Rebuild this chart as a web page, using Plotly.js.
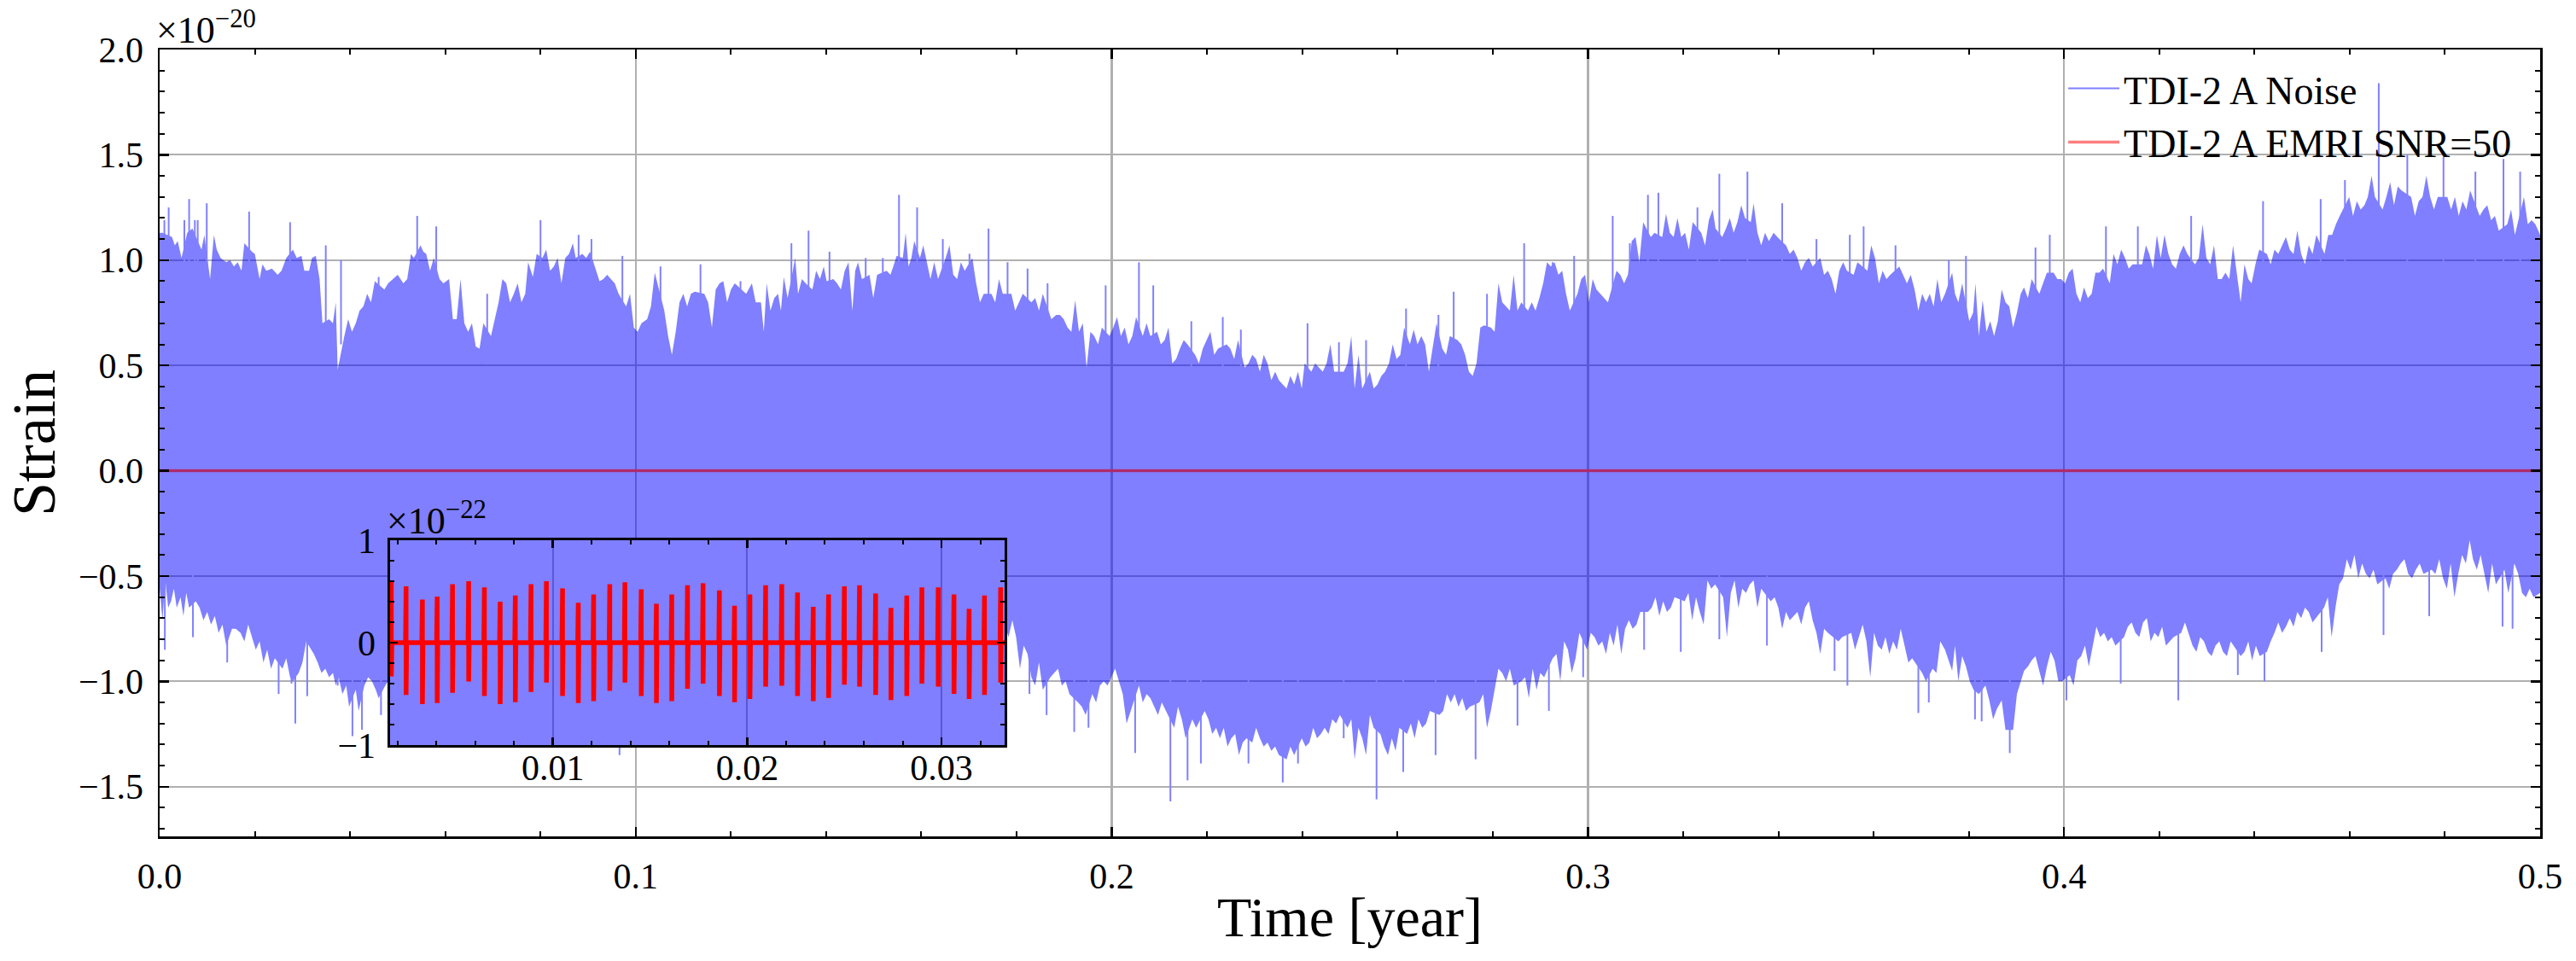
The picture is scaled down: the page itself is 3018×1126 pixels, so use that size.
<!DOCTYPE html>
<html>
<head>
<meta charset="utf-8">
<script src="https://cdn.plot.ly/plotly-3.0.1.min.js"></script>
<style>html,body{margin:0;padding:0;background:#fff;}</style>
</head>
<body>
<div id="chart" style="width:3018px;height:1126px;"></div>
<script>
// ---------- DATA (main panel strain in units of 1e-20; inset in units of 1e-22) ----------
// Upper edge of the noise trace (time [yr], strain)
var upperT = [0.0000,0.0006,0.0026,0.0032,0.0038,0.0046,0.0058,0.0069,0.0088,0.0094,0.0106,0.0114,0.0120,0.0128,0.0140,0.0148,0.0156,0.0164,0.0172,0.0178,
0.0194,0.0200,0.0210,0.0216,0.0224,0.0236,0.0248,0.0256,0.0266,0.0280,0.0288,0.0298,0.0304,0.0314,0.0320,0.0328,0.0336,0.0342,0.0356,0.0364,
0.0370,0.0374,0.0388,0.0396,0.0404,0.0412,0.0420,0.0428,0.0436,0.0444,0.0452,0.0472,0.0480,0.0490,0.0500,0.0512,0.0520,0.0528,0.0534,0.0548,
0.0554,0.0560,0.0568,0.0576,0.0588,0.0596,0.0608,0.0616,0.0624,0.0632,0.0640,0.0648,0.0656,0.0664,0.0672,0.0680,0.0696,0.0704,0.0712,0.0720,
0.0728,0.0736,0.0744,0.0752,0.0760,0.0768,0.0774,0.0784,0.0792,0.0804,0.0812,0.0820,0.0828,0.0836,0.0844,0.0852,0.0860,0.0868,0.0874,0.0888,
0.0896,0.0904,0.0916,0.0924,0.0932,0.0940,0.0948,0.0956,0.0964,0.0980,0.0988,0.0996,0.1004,0.1012,0.1024,0.1032,0.1040,0.1060,0.1068,0.1076,
0.1084,0.1092,0.1100,0.1108,0.1116,0.1124,0.1144,0.1152,0.1160,0.1168,0.1176,0.1184,0.1192,0.1200,0.1208,0.1232,0.1244,0.1252,
0.1263,0.1269,0.1275,0.1283,0.1291,0.1299,0.1305,0.1311,0.1319,0.1335,0.1341,0.1349,0.1357,0.1371,0.1379,0.1387,0.1395,0.1401,0.1415,0.1423,
0.1431,0.1439,0.1447,0.1455,0.1461,0.1467,0.1475,0.1491,0.1499,0.1507,0.1527,0.1535,0.1541,0.1548,0.1561,0.1567,0.1573,0.1579,0.1585,0.1597,
0.1604,0.1611,0.1619,0.1627,0.1635,0.1651,0.1659,0.1667,0.1675,0.1683,0.1691,0.1707,0.1715,0.1723,0.1731,0.1747,0.1755,0.1763,0.1771,0.1789,
0.1797,0.1805,0.1813,0.1831,0.1839,0.1847,0.1855,0.1873,0.1883,0.1891,0.1899,0.1907,0.1915,0.1923,0.1931,0.1939,0.1947,0.1955,0.1963,0.1971,
0.1979,0.1995,0.2003,0.2011,0.2019,0.2027,0.2035,0.2043,0.2051,0.2065,0.2073,0.2081,0.2095,0.2103,0.2111,0.2119,0.2127,0.2135,0.2143,0.2151,
0.2159,0.2175,0.2183,0.2191,0.2199,0.2207,0.2215,0.2223,0.2241,0.2249,0.2257,0.2265,0.2279,0.2287,0.2295,0.2303,0.2311,0.2319,0.2327,0.2335,
0.2343,0.2351,0.2359,0.2367,0.2375,0.2383,0.2391,0.2399,0.2405,0.2419,0.2427,0.2435,0.2443,0.2451,0.2459,0.2467,0.2487,0.2495,0.2503,
0.2510,0.2518,0.2526,0.2542,0.2550,0.2558,0.2566,0.2574,0.2582,0.2590,0.2598,0.2606,0.2614,0.2626,0.2634,0.2642,0.2650,0.2658,0.2666,0.2674,
0.2682,0.2694,0.2702,0.2710,0.2726,0.2734,0.2742,0.2750,0.2758,0.2766,0.2774,0.2782,0.2796,0.2804,0.2812,0.2820,0.2828,0.2836,0.2844,0.2852,
0.2860,0.2874,0.2882,0.2890,0.2898,0.2906,0.2914,0.2922,0.2930,0.2938,0.2946,0.2954,0.2962,0.2978,0.2986,0.2994,0.3002,0.3010,0.3018,0.3026,
0.3034,0.3042,0.3060,0.3068,0.3076,0.3084,0.3092,0.3100,0.3108,0.3116,0.3132,0.3140,0.3156,0.3164,0.3172,0.3180,0.3188,0.3196,0.3204,0.3212,
0.3220,0.3238,0.3246,0.3254,0.3262,0.3268,0.3282,0.3290,0.3298,0.3306,0.3314,0.3322,0.3330,0.3342,0.3348,0.3356,0.3364,0.3372,0.3380,0.3390,
0.3398,0.3416,0.3424,0.3432,0.3440,0.3448,0.3456,0.3464,0.3472,0.3488,0.3496,0.3504,0.3512,0.3520,0.3528,0.3536,0.3544,0.3558,0.3566,0.3587,
0.3595,0.3603,0.3611,0.3619,0.3627,0.3635,0.3654,0.3662,0.3670,0.3678,0.3686,0.3694,0.3702,0.3710,0.3718,0.3726,0.3734,0.3742,0.3750,
0.3765,0.3771,0.3778,0.3786,0.3801,0.3809,0.3814,0.3821,0.3829,0.3837,0.3845,0.3853,0.3861,0.3869,0.3877,0.3885,0.3893,0.3901,0.3909,0.3916,
0.3924,0.3932,0.3948,0.3956,0.3964,0.3978,0.3986,0.3994,0.4002,0.4010,0.4018,0.4026,0.4034,0.4042,0.4050,0.4058,0.4066,0.4074,0.4082,0.4096,
0.4104,0.4112,0.4120,0.4128,0.4136,0.4144,0.4164,0.4172,0.4179,0.4187,0.4195,0.4203,0.4211,0.4219,0.4227,0.4235,0.4243,0.4251,0.4259,0.4275,
0.4283,0.4291,0.4299,0.4307,0.4315,0.4323,0.4331,0.4339,0.4347,0.4355,0.4363,0.4371,0.4379,0.4387,0.4394,0.4402,0.4410,0.4426,0.4434,0.4442,
0.4450,0.4458,0.4466,0.4474,0.4482,0.4490,0.4498,0.4506,0.4514,0.4522,0.4530,0.4547,0.4555,0.4563,0.4571,0.4579,0.4599,0.4607,0.4615,0.4623,
0.4631,0.4638,0.4646,0.4653,0.4669,0.4677,0.4685,0.4693,0.4701,0.4709,0.4729,0.4737,0.4745,0.4753,0.4761,0.4769,0.4777,0.4785,0.4805,0.4813,
0.4821,0.4829,0.4837,0.4845,0.4853,0.4873,0.4881,0.4889,0.4897,0.4905,0.4913,0.4931,0.4939,0.4947,0.4966,0.4974,0.4982,0.4990,0.5000];
var upperV = [1.13,1.13,1.11,1.07,1.09,1.01,1.13,1.15,1.05,1.12,0.91,1.12,1.05,1.01,0.99,1.00,0.97,0.99,0.95,1.08,
1.04,1.03,0.91,0.98,0.95,0.96,0.93,0.95,1.01,1.05,1.01,1.02,0.95,0.95,1.01,1.02,0.91,0.70,0.72,0.70,
0.80,0.48,0.64,0.72,0.66,0.70,0.76,0.78,0.84,0.80,0.90,0.86,0.89,0.91,0.93,0.89,0.91,1.03,1.01,1.07,
1.04,1.03,0.95,1.01,0.91,0.89,0.91,0.72,0.72,0.91,0.70,0.66,0.70,0.59,0.58,0.70,0.64,0.72,0.80,0.91,
0.89,0.80,0.84,0.89,0.80,0.84,0.99,0.92,1.03,1.01,1.05,0.95,0.97,1.01,0.89,1.01,1.03,1.08,1.01,1.03,
1.01,1.04,0.95,0.90,0.91,0.93,0.91,0.89,0.84,0.78,0.84,0.68,0.66,0.70,0.72,0.78,0.94,0.76,0.64,0.55,
0.66,0.80,0.84,0.78,0.84,0.85,0.84,0.80,0.68,0.86,0.89,0.90,0.80,0.86,0.89,0.84,0.89,0.80,
0.80,0.66,0.89,0.76,0.82,0.84,0.76,0.92,0.82,1.01,0.84,0.91,0.89,0.86,0.95,0.91,0.97,0.90,0.91,0.89,
0.86,0.95,0.99,0.76,0.95,0.99,0.91,0.93,0.82,0.93,0.95,0.93,0.97,1.02,1.01,1.13,0.97,1.01,1.09,1.01,
1.07,0.99,0.91,0.99,0.91,1.01,1.07,0.93,0.91,0.99,0.95,1.01,0.89,0.80,0.84,0.84,0.80,0.91,0.84,0.84,
0.76,0.80,0.84,0.80,0.82,0.76,0.84,0.72,0.74,0.74,0.72,0.68,0.66,0.81,0.66,0.70,0.49,0.66,0.64,0.60,
0.68,0.64,0.68,0.73,0.64,0.68,0.60,0.64,0.73,0.64,0.70,0.64,0.66,0.60,0.62,0.68,0.51,0.53,0.58,0.62,
0.60,0.55,0.51,0.58,0.62,0.66,0.55,0.58,0.60,0.58,0.53,0.62,0.49,0.51,0.55,0.53,0.47,0.55,0.51,0.43,
0.47,0.43,0.41,0.39,0.45,0.41,0.47,0.39,0.51,0.47,0.51,0.49,0.47,0.51,0.60,0.47,0.47,0.51,0.64,
0.39,0.55,0.39,0.47,0.39,0.41,0.45,0.47,0.51,0.60,0.53,0.55,0.68,0.60,0.67,0.60,0.64,0.60,0.47,0.58,
0.70,0.58,0.55,0.64,0.62,0.60,0.55,0.47,0.45,0.51,0.68,0.69,0.68,0.66,0.89,0.80,0.78,0.76,0.93,0.76,
0.80,0.76,0.80,0.76,0.82,0.89,0.99,0.97,0.99,0.93,0.95,0.84,0.76,0.84,0.91,0.93,0.80,0.91,0.86,0.84,
0.82,0.80,0.95,0.93,0.89,0.93,1.09,1.11,0.99,1.18,1.11,1.13,1.11,1.22,1.13,1.11,1.20,1.11,1.13,1.05,
1.18,1.13,1.07,1.19,1.24,1.15,1.11,1.15,1.20,1.13,1.18,1.26,1.20,1.18,1.27,1.13,1.07,1.13,1.09,1.13,
1.11,1.07,1.03,1.05,1.01,0.95,0.99,1.01,0.97,1.01,0.93,0.95,0.91,0.84,0.95,0.99,0.95,0.93,0.99,0.95,
1.07,1.01,0.89,0.95,0.91,0.93,0.97,0.93,0.89,0.93,0.86,0.76,0.84,0.80,0.84,0.78,0.91,0.80,0.84,
0.94,0.84,0.80,0.89,0.71,0.75,0.89,0.64,0.81,0.66,0.71,0.64,0.71,0.86,0.80,0.78,0.68,0.75,0.84,0.87,
0.82,0.91,0.84,0.89,0.94,0.94,0.91,0.91,0.89,0.94,0.96,0.84,0.80,0.87,0.82,0.84,0.94,0.94,0.96,0.89,
1.03,0.98,1.05,1.01,0.96,0.98,0.98,1.07,1.03,0.96,1.12,1.01,1.12,1.03,0.98,0.96,1.03,1.07,1.03,0.98,
1.01,1.17,1.01,0.98,1.07,0.91,0.91,0.94,0.91,1.07,0.94,0.80,0.98,0.91,0.89,0.98,1.05,1.03,0.98,1.05,
1.03,1.07,1.11,1.05,1.03,1.14,1.03,0.98,1.07,1.03,1.12,1.03,1.12,1.12,1.17,1.21,1.30,1.21,1.28,1.24,
1.26,1.30,1.40,1.30,1.24,1.30,1.37,1.26,1.35,1.33,1.30,1.21,1.28,1.30,1.40,1.30,1.24,1.30,1.30,1.24,
1.30,1.21,1.28,1.24,1.33,1.21,1.24,1.26,1.19,1.21,1.14,1.17,1.24,1.12,1.30,1.17,1.19,1.17,1.12];

// Lower edge of the noise trace (time [yr], strain); the part behind the inset is estimated
var lowerT = [0.0000,0.0006,0.0012,0.0018,0.0024,0.0030,0.0036,0.0044,0.0050,0.0056,0.0062,0.0076,0.0084,0.0092,0.0100,0.0108,0.0116,0.0124,0.0132,0.0140,
0.0152,0.0160,0.0170,0.0178,0.0186,0.0194,0.0202,0.0210,0.0218,0.0226,0.0234,0.0242,0.0258,0.0266,0.0274,0.0280,0.0292,0.0300,0.0308,0.0324,
0.0332,0.0340,0.0348,0.0356,0.0364,0.0370,0.0376,0.0384,0.0392,0.0398,0.0412,0.0418,0.0430,0.0438,0.0446,0.0454,0.0460,0.0474,0.0480,
0.050,0.055,0.060,0.065,0.070,0.075,0.080,0.085,0.090,0.095,0.100,0.105,0.110,0.115,0.120,0.125,0.130,0.135,0.140,0.145,0.150,0.155,0.160,0.165,0.170,
0.1775,0.1783,0.1791,0.1799,0.1807,0.1815,0.1823,0.1831,0.1839,0.1847,0.1855,0.1871,0.1879,0.1887,0.1895,0.1903,0.1911,0.1929,0.1937,0.1945,
0.1959,0.1967,0.1975,0.1983,0.1991,0.1999,0.2007,0.2015,0.2023,0.2031,0.2039,0.2057,0.2065,0.2073,0.2081,0.2089,0.2097,0.2105,0.2113,0.2131,
0.2139,0.2147,0.2155,0.2169,0.2177,0.2195,0.2203,0.2211,0.2219,0.2227,0.2235,0.2243,0.2251,0.2259,0.2267,0.2275,0.2283,0.2295,0.2303,0.2311,
0.2319,0.2327,0.2335,0.2343,0.2351,0.2367,0.2375,0.2383,0.2399,0.2407,0.2415,0.2423,0.2431,0.2439,0.2447,0.2455,0.2463,0.2471,0.2479,0.2495,0.2503,
0.2510,0.2518,0.2526,0.2534,0.2542,0.2550,0.2564,0.2572,0.2580,0.2588,0.2596,0.2604,0.2620,0.2628,0.2636,0.2644,0.2652,0.2660,0.2668,0.2688,
0.2696,0.2704,0.2712,0.2720,0.2728,0.2736,0.2744,0.2752,0.2772,0.2780,0.2788,0.2796,0.2804,0.2812,0.2820,0.2828,0.2836,0.2844,0.2860,0.2868,
0.2876,0.2884,0.2892,0.2900,0.2908,0.2926,0.2934,0.2942,0.2950,0.2958,0.2966,0.2974,0.2982,0.2998,0.3006,0.3014,0.3022,0.3030,0.3038,0.3046,
0.3054,0.3062,0.3070,0.3078,0.3086,0.3094,0.3102,0.3110,0.3126,0.3134,0.3142,0.3150,0.3158,0.3166,0.3174,0.3182,0.3203,0.3211,0.3219,0.3227,
0.3235,0.3243,0.3251,0.3259,0.3267,0.3284,0.3292,0.3300,0.3308,0.3316,0.3324,0.3332,0.3340,0.3348,0.3356,0.3364,0.3384,0.3392,0.3400,0.3408,
0.3416,0.3424,0.3432,0.3440,0.3448,0.3456,0.3464,0.3472,0.3480,0.3488,0.3496,0.3504,0.3526,0.3534,0.3553,0.3561,0.3569,0.3577,0.3585,0.3593,
0.3601,0.3609,0.3617,0.3625,0.3633,0.3641,0.3649,0.3657,0.3665,0.3673,0.3681,0.3702,0.3710,0.3724,0.3732,0.3740,0.3750,
0.3765,0.3771,0.3778,0.3786,0.3794,0.3802,0.3810,0.3821,0.3835,0.3843,0.3851,0.3859,0.3869,0.3877,0.3893,0.3901,0.3909,0.3916,0.3924,0.3932,
0.3940,0.3948,0.3956,0.3964,0.3972,0.3980,0.3988,0.3996,0.4012,0.4020,0.4028,0.4036,0.4044,0.4052,0.4060,0.4068,0.4076,0.4084,0.4092,0.4100,
0.4108,0.4126,0.4134,0.4142,0.4150,0.4158,0.4166,0.4174,0.4182,0.4190,0.4198,0.4206,0.4214,0.4222,0.4230,0.4246,0.4254,0.4262,0.4270,0.4278,
0.4286,0.4294,0.4302,0.4310,0.4318,0.4326,0.4334,0.4342,0.4350,0.4371,0.4379,0.4387,0.4395,0.4403,0.4411,0.4426,0.4434,0.4442,0.4450,0.4458,
0.4466,0.4474,0.4482,0.4490,0.4498,0.4506,0.4514,0.4522,0.4530,0.4546,0.4554,0.4562,0.4570,0.4578,0.4586,0.4594,0.4602,0.4610,0.4618,0.4626,
0.4634,0.4642,0.4650,0.4658,0.4675,0.4683,0.4691,0.4699,0.4707,0.4715,0.4723,0.4731,0.4739,0.4747,0.4755,0.4772,0.4780,0.4788,0.4796,0.4804,
0.4812,0.4820,0.4828,0.4836,0.4844,0.4852,0.4859,0.4867,0.4875,0.4883,0.4891,0.4899,0.4907,0.4925,0.4933,0.4946,0.4954,0.4962,0.4970,0.4978,0.4986,0.5000];
var lowerV = [-0.56,-0.71,-0.52,-0.65,-0.62,-0.56,-0.65,-0.60,-0.69,-0.58,-0.65,-0.62,-0.65,-0.71,-0.67,-0.73,-0.69,-0.77,-0.73,-0.83,
-0.75,-0.75,-0.77,-0.81,-0.73,-0.79,-0.85,-0.81,-0.91,-0.85,-0.94,-0.89,-0.94,-0.89,-0.98,-1.00,-0.96,-0.91,-0.81,-0.87,
-0.91,-0.96,-0.94,-0.98,-0.96,-1.02,-0.98,-1.06,-1.02,-1.12,-1.04,-1.14,-1.02,-0.98,-1.00,-1.04,-1.08,-1.02,-1.00,
-0.95,-1.00,-1.02,-0.98,-0.95,-0.97,-1.02,-1.05,-1.05,-1.08,-1.00,-0.98,-0.95,-0.98,-1.00,-0.98,-0.95,-0.98,-1.00,-0.98,-0.95,-0.95,-0.90,-0.85,-0.80,
-0.73,-0.79,-0.71,-0.79,-0.94,-0.83,-0.87,-0.98,-1.02,-0.91,-1.04,-0.98,-0.96,-0.94,-1.02,-1.00,-1.06,-1.10,-1.12,-1.16,
-1.06,-1.10,-1.02,-1.00,-1.02,-0.98,-0.94,-1.00,-1.06,-1.20,-1.14,-1.02,-1.10,-1.06,-1.08,-1.12,-1.16,-1.10,-1.14,-1.22,
-1.12,-1.18,-1.27,-1.18,-1.22,-1.14,-1.18,-1.25,-1.22,-1.27,-1.22,-1.31,-1.27,-1.25,-1.35,-1.29,-1.27,-1.29,-1.22,-1.27,
-1.31,-1.29,-1.33,-1.31,-1.35,-1.37,-1.31,-1.35,-1.27,-1.31,-1.29,-1.22,-1.27,-1.25,-1.22,-1.25,-1.18,-1.20,-1.16,-1.22,-1.18,
-1.37,-1.22,-1.27,-1.35,-1.16,-1.22,-1.25,-1.31,-1.35,-1.27,-1.33,-1.22,-1.25,-1.20,-1.27,-1.18,-1.22,-1.20,-1.14,-1.16,
-1.14,-1.06,-1.10,-1.06,-1.12,-1.08,-1.14,-1.12,-1.10,-1.06,-1.22,-1.14,-1.04,-0.94,-0.96,-1.00,-0.94,-1.02,-1.00,-0.98,
-1.08,-0.94,-1.04,-0.96,-0.98,-0.89,-0.87,-1.00,-0.81,-0.85,-0.96,-0.89,-0.77,-0.85,-0.77,-0.79,-0.83,-0.81,-0.87,-0.77,
-0.83,-0.73,-0.87,-0.75,-0.71,-0.75,-0.73,-0.67,-0.67,-0.65,-0.60,-0.69,-0.62,-0.67,-0.65,-0.60,-0.62,-0.58,-0.71,-0.60,
-0.67,-0.73,-0.52,-0.56,-0.54,-0.60,-0.79,-0.58,-0.52,-0.65,-0.56,-0.58,-0.54,-0.52,-0.65,-0.56,-0.62,-0.60,-0.65,-0.75,
-0.67,-0.71,-0.69,-0.67,-0.73,-0.65,-0.62,-0.71,-0.77,-0.87,-0.75,-0.77,-0.81,-0.79,-0.77,-0.85,-0.79,-0.73,-0.81,-0.98,
-0.77,-0.83,-0.85,-0.79,-0.87,-0.81,-0.85,-0.75,-0.83,-0.91,-0.89,-0.96,-1.00,-0.94,-0.96,-0.81,-0.85,
-0.95,-0.83,-1.00,-0.88,-0.93,-1.00,-1.04,-1.06,-1.02,-1.09,-1.18,-1.13,-1.09,-1.23,-1.23,-1.06,-1.00,-0.95,-0.93,-0.90,
-0.88,-0.95,-1.02,-0.93,-0.86,-0.90,-1.00,-1.00,-0.97,-1.02,-0.90,-0.88,-0.83,-0.93,-0.83,-0.74,-0.79,-0.77,-0.81,-0.79,
-0.83,-0.79,-0.74,-0.72,-0.77,-0.79,-0.72,-0.70,-0.81,-0.77,-0.79,-0.74,-0.83,-0.81,-0.79,-0.77,-0.72,-0.77,-0.83,-0.86,
-0.79,-0.81,-0.86,-0.88,-0.83,-0.81,-0.86,-0.88,-0.81,-0.88,-0.86,-0.81,-0.90,-0.83,-0.88,-0.86,-0.81,-0.77,-0.72,-0.77,
-0.74,-0.70,-0.74,-0.67,-0.70,-0.65,-0.67,-0.72,-0.70,-0.65,-0.60,-0.79,-0.65,-0.54,-0.51,-0.42,-0.47,-0.40,-0.51,-0.44,
-0.49,-0.51,-0.47,-0.54,-0.51,-0.56,-0.49,-0.47,-0.44,-0.42,-0.49,-0.51,-0.47,-0.44,-0.49,-0.47,-0.49,-0.42,-0.51,-0.56,
-0.44,-0.60,-0.49,-0.40,-0.44,-0.33,-0.42,-0.47,-0.40,-0.49,-0.58,-0.44,-0.54,-0.47,-0.58,-0.44,-0.49,-0.58,-0.60,-0.56,-0.60,-0.58];

// Isolated noise excursions (time [yr], strain)
var spikeUpT = [0.0010,0.0019,0.0052,0.0062,0.0074,0.0080,0.0099,0.0188,0.0274,0.0349,0.0381,0.0460,0.0541,0.0581,0.0688,0.0800,0.0880,0.0907,0.0972,0.1052,0.1136,0.1220,
0.1327,0.1363,0.1407,0.1483,0.1519,0.1553,0.1591,0.1645,0.1701,0.1741,0.1781,0.1823,0.1865,0.1987,0.2057,0.2087,0.2167,0.2233,0.2271,0.2411,0.2477,
0.2534,0.2618,0.2686,0.2718,0.2788,0.2866,0.2926,0.2971,0.3052,0.3088,0.3126,0.3148,0.3230,0.3276,0.3335,0.3408,0.3480,0.3550,0.3579,0.3646,0.3758,
0.3794,0.3940,0.3970,0.4088,0.4155,0.4267,0.4418,0.4539,0.4590,0.4661,0.4721,0.4797,0.4864,0.4923,0.4958];
var spikeUpV = [1.19,1.25,1.19,1.29,1.19,1.19,1.27,1.23,1.18,1.07,1.00,0.92,1.21,1.16,0.84,1.19,1.12,1.10,1.02,0.97,0.98,0.90,
1.08,1.14,1.04,1.01,1.01,1.31,1.25,1.10,1.03,1.15,0.99,0.96,0.89,0.88,0.99,0.88,0.71,0.73,0.67,0.70,0.61,
0.62,0.77,0.74,0.85,0.84,1.08,0.99,1.02,1.21,1.08,1.31,1.32,1.25,1.41,1.42,1.27,1.10,1.12,1.16,1.07,1.00,
1.02,1.06,1.12,1.16,1.16,1.21,1.28,1.29,1.38,1.84,1.50,1.49,1.42,1.48,1.42];
var spikeDnT = [0.0011,0.0070,0.0142,0.0250,0.0277,0.0285,0.0310,0.0374,0.0405,0.0425,0.0465,0.0966,
0.1827,0.1863,0.1921,0.1951,0.2049,0.2123,0.2159,0.2187,0.2287,0.2359,0.2391,0.2487,
0.2556,0.2612,0.2680,0.2764,0.2852,0.2918,0.2990,0.3118,0.3195,0.3276,0.3376,0.3518,0.3545,0.3694,0.3716,
0.3813,0.3827,0.3886,0.4005,0.4119,0.4240,0.4365,0.4421,0.4541,0.4671,0.4767,0.4921,0.4942];
var spikeDnV = [-0.85,-0.79,-0.91,-1.06,-1.01,-1.20,-1.07,-1.02,-1.26,-1.23,-1.16,-1.35,
-1.06,-1.16,-1.24,-1.22,-1.34,-1.57,-1.47,-1.39,-1.39,-1.48,-1.39,-1.27,
-1.56,-1.43,-1.35,-1.37,-1.21,-1.14,-0.98,-0.85,-0.86,-0.80,-0.83,-0.95,-1.02,-1.15,-1.10,
-1.18,-1.19,-1.34,-1.09,-1.01,-1.09,-0.97,-1.00,-0.86,-0.78,-0.69,-0.74,-0.75];

// EMRI signal at the main-panel scale (indistinguishable from zero there)
var emriMainT = [0.0, 0.5];
var emriMainV = [0.0, 0.0];

// EMRI bursts in the inset (units of 1e-22): burst times, positive peaks, negative troughs
var burstT = [0.00169,0.00245,0.00329,0.00405,0.00484,0.00567,0.00648,0.00729,0.00807,0.00888,
0.00967,0.01050,0.01131,0.01210,0.01293,0.01371,0.01455,0.01533,0.01612,0.01693,
0.01773,0.01857,0.01935,0.02014,0.02095,0.02178,0.02259,0.02340,0.02419,0.02500,
0.02578,0.02661,0.02740,0.02821,0.02899,0.02983,0.03064,0.03142,0.03221,0.03304];
var burstPeak = [0.60,0.55,0.42,0.45,0.57,0.60,0.54,0.40,0.46,0.57,
0.60,0.53,0.39,0.47,0.57,0.59,0.52,0.38,0.47,0.56,
0.58,0.51,0.36,0.47,0.56,0.57,0.49,0.35,0.47,0.55,
0.56,0.48,0.34,0.46,0.54,0.54,0.47,0.33,0.46,0.54];
var burstTrough = [-0.33,-0.51,-0.60,-0.59,-0.49,-0.38,-0.52,-0.60,-0.58,-0.48,
-0.39,-0.52,-0.59,-0.57,-0.47,-0.39,-0.52,-0.59,-0.57,-0.45,
-0.40,-0.52,-0.58,-0.55,-0.43,-0.42,-0.52,-0.57,-0.54,-0.41,
-0.43,-0.51,-0.56,-0.52,-0.40,-0.43,-0.50,-0.55,-0.51,-0.39];
var insetRangeT = [0.001625, 0.03325];

// ---------- BUILD TRACES ----------
function envelopePolygon(scale) {
  var x = upperT.concat(lowerT.slice().reverse());
  var y = upperV.map(function(v){return v*scale;})
          .concat(lowerV.slice().reverse().map(function(v){return v*scale;}));
  return {x: x, y: y};
}
var mainPoly = envelopePolygon(1);
var insetPoly = envelopePolygon(100); // 1e-20 -> 1e-22 units

// each excursion is drawn as a thin stroke whose inner end is hidden inside the filled band
var SPIKE_BASE = 0.6;
var spkX = [], spkY = [];
spikeUpT.forEach(function(t, i){ spkX.push(t, t, null); spkY.push(spikeUpV[i]*SPIKE_BASE, spikeUpV[i], null); });
spikeDnT.forEach(function(t, i){ spkX.push(t, t, null); spkY.push(spikeDnV[i]*SPIKE_BASE, spikeDnV[i], null); });

var bx = [insetRangeT[0]], by = [0];
var eps = 0.00003;
burstT.forEach(function(t, i){
  bx.push(t - eps, t, t, t + eps);
  by.push(0, burstPeak[i], burstTrough[i], 0);
});
bx.push(insetRangeT[1]); by.push(0);

var FONT = 'Liberation Serif, Times New Roman, serif';
var blueA = 'rgba(0,0,255,0.5)';
var blueSolid = 'rgb(128,128,255)';

var traces = [
  {x: mainPoly.x, y: mainPoly.y, type: 'scatter', mode: 'lines', fill: 'toself',
   fillcolor: blueA, line: {width: 0, color: blueA}, hoverinfo: 'skip', showlegend: false, xaxis: 'x', yaxis: 'y'},
  {x: spkX, y: spkY, type: 'scatter', mode: 'lines', name: 'TDI-2 A Noise',
   line: {width: 2, color: blueSolid}, connectgaps: false, xaxis: 'x', yaxis: 'y'},
  {x: emriMainT, y: emriMainV, type: 'scatter', mode: 'lines', name: 'TDI-2 A EMRI SNR=50',
   line: {width: 3.5, color: 'rgba(255,0,0,0.5)'}, xaxis: 'x', yaxis: 'y'},
  {x: insetPoly.x, y: insetPoly.y, type: 'scatter', mode: 'lines', fill: 'toself',
   fillcolor: blueA, line: {width: 0, color: blueA}, hoverinfo: 'skip', showlegend: false, xaxis: 'x2', yaxis: 'y2'},
  {x: bx, y: by, type: 'scatter', mode: 'lines', showlegend: false,
   line: {width: 5.5, color: 'rgb(255,0,0)'}, xaxis: 'x2', yaxis: 'y2'}
];

var tickFont = {family: FONT, size: 42, color: '#000'};
function axisBase() {
  return {
    ticks: 'inside', ticklen: 11, tickwidth: 2.5, tickcolor: '#000',
    mirror: 'allticks', showline: true, linewidth: 2.5, linecolor: '#000',
    showgrid: true, gridcolor: '#b0b0b0', gridwidth: 2.2, zeroline: false,
    tickfont: tickFont, automargin: false
  };
}
var xa = axisBase();
Object.assign(xa, {domain: [0, 1], range: [0, 0.5], tick0: 0, dtick: 0.1, tickformat: '.1f',
  minor: {dtick: 0.02, ticks: 'inside', ticklen: 6, tickwidth: 2, tickcolor: '#000', showgrid: false},
  title: {text: 'Time [year]', font: {family: FONT, size: 66, color: '#000'}, standoff: 2},
  ticklabelstandoff: 8, anchor: 'y'});
var ya = axisBase();
Object.assign(ya, {domain: [0, 1], range: [-1.736, 2.0], tick0: 0, dtick: 0.5, tickformat: '.1f',
  minor: {dtick: 0.1, ticks: 'inside', ticklen: 6, tickwidth: 2, tickcolor: '#000', showgrid: false},
  title: {text: 'Strain', font: {family: FONT, size: 72, color: '#000'}, standoff: 20},
  ticklabelstandoff: 8, anchor: 'x'});
var xa2 = axisBase();
Object.assign(xa2, {domain: [0.0968, 0.355], range: insetRangeT, tick0: 0, dtick: 0.01, tickformat: '.2f',
  ticklen: 9, minor: {dtick: 0.002, ticks: 'inside', ticklen: 5, tickwidth: 2, tickcolor: '#000', showgrid: false},
  ticklabelstandoff: -12, anchor: 'y2'});
var ya2 = axisBase();
Object.assign(ya2, {domain: [0.116, 0.3764], range: [-1, 1], tick0: 0, dtick: 1, tickformat: 'd',
  ticklen: 9, minor: {dtick: 0.2, ticks: 'inside', ticklen: 5, tickwidth: 2, tickcolor: '#000', showgrid: false},
  ticklabelstandoff: 6, anchor: 'x2'});

var layout = {
  width: 3018, height: 1126,
  margin: {l: 187, r: 42, t: 58, b: 146, pad: 0},
  paper_bgcolor: '#fff', plot_bgcolor: '#fff',
  font: {family: FONT, size: 42, color: '#000'},
  xaxis: xa, yaxis: ya, xaxis2: xa2, yaxis2: ya2,
  showlegend: true,
  legend: {x: 0.99, xanchor: 'right', y: 0.99, yanchor: 'top', bgcolor: 'rgba(0,0,0,0)',
           borderwidth: 0, font: {family: FONT, size: 46, color: '#000'}, itemwidth: 60, tracegroupgap: 0},
  annotations: [
    {xref: 'paper', yref: 'paper', x: 0, y: 1, xanchor: 'left', yanchor: 'bottom', showarrow: false,
     text: '×10<sup>−20</sup>', font: {family: FONT, size: 44, color: '#000'}, xshift: -6, yshift: -4},
    {xref: 'x2 domain', yref: 'y2 domain', x: 0, y: 1, xanchor: 'left', yanchor: 'bottom', showarrow: false,
     text: '×10<sup>−22</sup>', font: {family: FONT, size: 44, color: '#000'}, xshift: -6, yshift: -4}
  ]
};

Plotly.newPlot('chart', traces, layout, {displayModeBar: false, staticPlot: true});
</script>
</body>
</html>
